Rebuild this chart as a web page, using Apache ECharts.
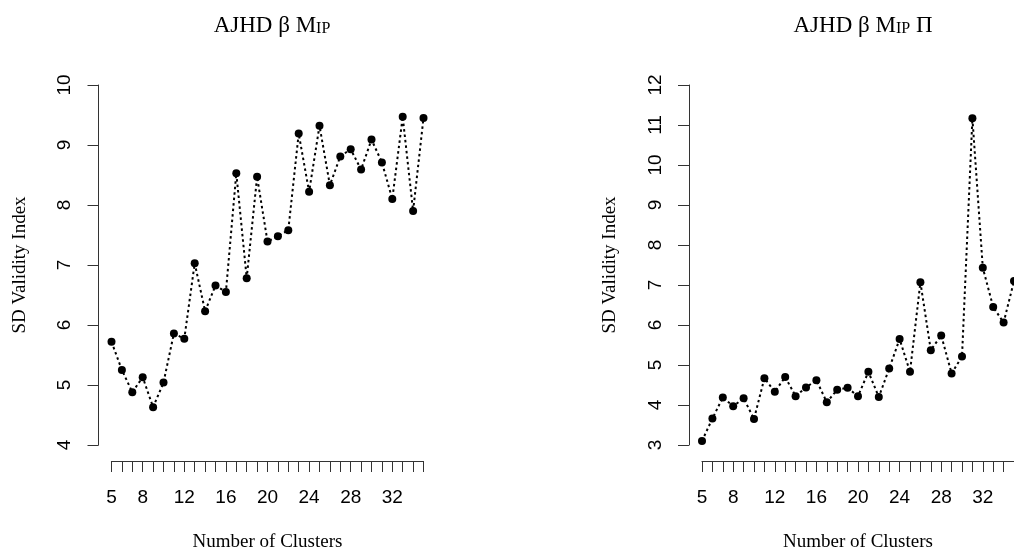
<!DOCTYPE html>
<html>
<head>
<meta charset="utf-8">
<style>
  html, body { margin: 0; padding: 0; background: #fff; }
  #chart { width: 1014px; height: 552px; }
</style>
<script src="https://cdn.jsdelivr.net/npm/echarts@6/dist/echarts.min.js"></script>
</head>
<body>
<div id="chart"></div>
<script>
(function() {
  // number of clusters on the x axis
  var clusters = [5, 6, 7, 8, 9, 10, 11, 12, 13, 14, 15, 16, 17, 18, 19, 20,
    21, 22, 23, 24, 25, 26, 27, 28, 29, 30, 31, 32, 33, 34, 35];
  // SD validity index, left panel (AJHD beta M_IP)
  var sdLeft = [5.72, 5.25, 4.88, 5.13, 4.63, 5.04, 5.86, 5.77, 7.03, 6.23, 6.66,
    6.55, 8.53, 6.78, 8.47, 7.39, 7.48, 7.58, 9.19, 8.22, 9.32, 8.33, 8.81, 8.93,
    8.59, 9.09, 8.71, 8.10, 9.47, 7.90, 9.45];
  // SD validity index, right panel (AJHD beta M_IP Pi)
  var sdRight = [3.10, 3.66, 4.19, 3.97, 4.17, 3.65, 4.67, 4.33, 4.70, 4.22, 4.44,
    4.62, 4.07, 4.38, 4.43, 4.22, 4.83, 4.20, 4.91, 5.65, 4.83, 7.07, 5.37, 5.74,
    4.79, 5.21, 11.17, 7.43, 6.45, 6.06, 7.10];
  // x tick labels that R managed to print
  var xLabels = [5, 8, 12, 16, 20, 24, 28, 32];

  var ink = '#000';
  var axisCol = '#333';
  var sans = '"Liberation Sans", Arial, sans-serif';
  var serif = '"Liberation Serif", "Times New Roman", serif';

  function pairs(ys) {
    return clusters.map(function(c, i) { return [c, ys[i]]; });
  }

  function xAxis(idx) {
    return {
      type: 'value', gridIndex: idx, position: 'bottom', min: 5, max: 35, interval: 1,
      offset: 16,
      name: 'Number of Clusters', nameLocation: 'middle', nameGap: 72,
      nameTextStyle: { fontFamily: serif, fontSize: 19, color: ink },
      axisLine: { show: true, onZero: false, lineStyle: { color: axisCol, width: 1.2 } },
      axisTick: { show: true, length: 11, lineStyle: { color: axisCol } },
      axisLabel: {
        customValues: xLabels, margin: 27,
        fontFamily: sans, fontSize: 19, color: ink
      },
      splitLine: { show: false }
    };
  }

  function yAxis(idx, min, max) {
    return {
      type: 'value', gridIndex: idx, position: 'left', min: min, max: max, interval: 1,
      offset: 13,
      name: 'SD Validity Index', nameLocation: 'middle', nameGap: 69,
      nameTextStyle: { fontFamily: serif, fontSize: 19, color: ink },
      axisLine: { show: true, onZero: false, lineStyle: { color: axisCol, width: 1 } },
      axisTick: { show: true, length: 11, lineStyle: { color: axisCol } },
      axisLabel: { rotate: 90, margin: 24, fontFamily: sans, fontSize: 19, color: ink },
      splitLine: { show: false }
    };
  }

  function series(idx, ys) {
    return {
      type: 'line', xAxisIndex: idx, yAxisIndex: idx,
      data: pairs(ys),
      symbol: 'circle', symbolSize: 8,
      itemStyle: { color: ink },
      lineStyle: { color: ink, width: 2, type: [2.5, 3] },
      clip: false
    };
  }

  var subStyle = { fontFamily: serif, fontSize: 16, lineHeight: 4, verticalAlign: 'bottom', color: ink };

  var chart = echarts.init(document.getElementById('chart'), null, { renderer: 'canvas' });
  chart.setOption({
    animation: false,
    backgroundColor: '#fff',
    title: [
      {
        text: 'AJHD β M{sub|IP}', left: 267, top: 9, textAlign: 'center',
        textStyle: { fontFamily: serif, fontSize: 23, fontWeight: 'normal', color: ink, rich: { sub: subStyle } }
      },
      {
        text: 'AJHD β M{sub|IP} Π', left: 858, top: 9, textAlign: 'center',
        textStyle: { fontFamily: serif, fontSize: 23, fontWeight: 'normal', color: ink, rich: { sub: subStyle } }
      }
    ],
    grid: [
      { left: 111.5, top: 85, width: 312, height: 360, outerBoundsMode: 'none' },
      { left: 702, top: 85, width: 312, height: 360, outerBoundsMode: 'none' }
    ],
    xAxis: [xAxis(0), xAxis(1)],
    yAxis: [yAxis(0, 4, 10), yAxis(1, 3, 12)],
    series: [series(0, sdLeft), series(1, sdRight)]
  });
  window.addEventListener('resize', function() { chart.resize(); });
})();
</script>
</body>
</html>
